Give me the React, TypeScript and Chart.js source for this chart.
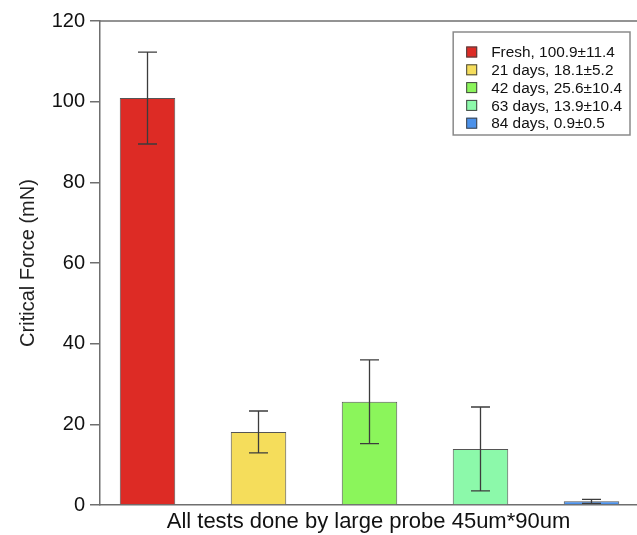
import React, { useEffect, useRef } from "react";
import { Chart, registerables } from "chart.js";

Chart.register(...registerables);

const categories = ["Fresh", "21 days", "42 days", "63 days", "84 days"];
const means = [100.9, 18.1, 25.6, 13.9, 0.9];
const errors = [11.4, 5.2, 10.4, 10.4, 0.5];
const barColors = ["#dd2b25", "#f5dd5b", "#8bf55b", "#8cf9aa", "#4b91ea"];
const yMin = 0;
const yMax = 120;
const yStep = 20;
const yTitle = "Critical Force (mN)";
const xTitle = "All tests done by large probe 45um*90um";

const FONT = "'Liberation Sans', Arial, Helvetica, sans-serif";
const AXIS = "#6f6f6f";

const errorBarPlugin = {
  id: "errorBars",
  afterDatasetsDraw(chart: any) {
    const meta = chart.getDatasetMeta(0);
    const y = chart.scales.y;
    const ctx = chart.ctx;
    ctx.save();
    ctx.strokeStyle = "#3c3c3c";
    ctx.lineWidth = 1.3;
    meta.data.forEach((el: any, i: number) => {
      const top = y.getPixelForValue(means[i] + errors[i]);
      const bot = y.getPixelForValue(means[i] - errors[i]);
      const x = el.x;
      const hw = 9.5;
      ctx.beginPath();
      ctx.moveTo(x, top);
      ctx.lineTo(x, bot);
      ctx.moveTo(x - hw, top);
      ctx.lineTo(x + hw, top);
      ctx.moveTo(x - hw, bot);
      ctx.lineTo(x + hw, bot);
      ctx.stroke();
    });
    ctx.restore();
  },
};

const frameLegendPlugin = {
  id: "frameLegend",
  afterDraw(chart: any) {
    const ctx = chart.ctx;
    const area = chart.chartArea;
    ctx.save();
    // top frame line
    ctx.strokeStyle = AXIS;
    ctx.lineWidth = 1.5;
    ctx.beginPath();
    ctx.moveTo(area.left, area.top);
    ctx.lineTo(area.right + 5, area.top);
    ctx.stroke();

    // legend
    ctx.font = `15.4px ${FONT}`;
    const texts = categories.map(
      (c, i) => `${c}, ${means[i].toFixed(1)}\u00b1${errors[i].toFixed(1)}`
    );
    const maxW = Math.max(...texts.map((t) => ctx.measureText(t).width));
    const padL = 13;
    const sw = 11;
    const gap = 14;
    const padR = 8;
    const rowH = 17.8;
    const boxW = padL + sw + gap + maxW + padR;
    const boxH = 103;
    const boxRight = area.right - 7;
    const boxLeft = boxRight - boxW;
    const boxTop = area.top + 11;
    ctx.strokeStyle = "#8a8a8a";
    ctx.lineWidth = 1.5;
    ctx.beginPath();
    ctx.rect(boxLeft, boxTop, boxW, boxH);
    ctx.stroke();
    ctx.textBaseline = "middle";
    ctx.textAlign = "left";
    texts.forEach((t, i) => {
      const cy = boxTop + 20 + i * rowH;
      ctx.fillStyle = barColors[i];
      ctx.fillRect(boxLeft + padL, cy - sw / 2, sw, sw);
      ctx.strokeStyle = "#444";
      ctx.lineWidth = 1;
      ctx.strokeRect(boxLeft + padL + 0.5, cy - sw / 2 + 0.5, sw - 1, sw - 1);
      ctx.fillStyle = "#111";
      ctx.fillText(t, boxLeft + padL + sw + gap, cy + 1);
    });
    ctx.restore();
  },
};

export default function App() {
  const ref = useRef<HTMLCanvasElement | null>(null);
  useEffect(() => {
    if (!ref.current) return;
    const chart = new Chart(ref.current, {
      type: "bar",
      data: {
        datasets: [
          {
            data: means.map((m, i) => ({ x: i, y: m })),
            backgroundColor: barColors,
            borderColor: "#555555",
            borderWidth: 1,
            categoryPercentage: 1,
            barPercentage: 0.5,
          },
        ],
      },
      options: {
        animation: false,
        responsive: false,
        layout: { padding: { top: 21, right: 0, left: 0, bottom: 0 } },
        plugins: {
          legend: { display: false },
          tooltip: { enabled: false },
        },
        scales: {
          x: {
            type: "linear",
            offset: false,
            min: -0.428,
            max: 4.41,
            grid: { display: false },
            ticks: { display: false, stepSize: 1, includeBounds: false },
            border: { display: true, color: AXIS, width: 1.5 },
            title: {
              display: true,
              text: xTitle,
              color: "#111",
              font: { family: FONT, size: 22 },
              padding: { top: 0, bottom: 0 },
            },
            afterFit: (s: any) => {
              s.height = 30;
            },
          },
          y: {
            min: yMin,
            max: yMax,
            ticks: {
              stepSize: yStep,
              color: "#111",
              font: { family: FONT, size: 20 },
              padding: 5,
            },
            grid: {
              drawOnChartArea: false,
              drawTicks: true,
              tickLength: 10,
              color: AXIS,
              lineWidth: 1.5,
            },
            border: { display: true, color: AXIS, width: 1.5 },
            title: {
              display: true,
              text: yTitle,
              color: "#222",
              font: { family: FONT, size: 20 },
              padding: { top: 16, bottom: 0 },
            },
            afterFit: (s: any) => {
              s.width = 100;
            },
          },
        },
      },
      plugins: [errorBarPlugin, frameLegendPlugin],
    });
    return () => chart.destroy();
  }, []);
  return (
    <div style={{ position: "absolute", left: 0, top: 0, width: 637, height: 535, background: "#fff" }}>
      <canvas ref={ref} width={637} height={535} style={{ display: "block" }} />
    </div>
  );
}
